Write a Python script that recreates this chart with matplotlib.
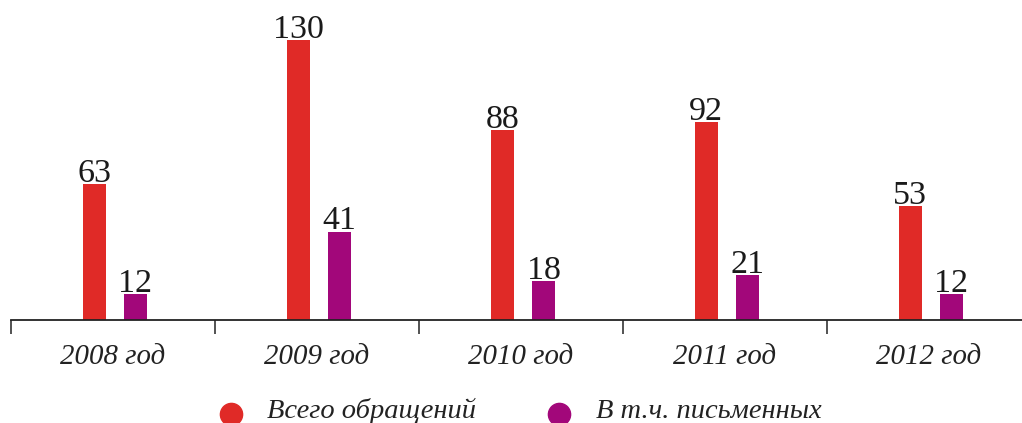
import numpy as np
import matplotlib.pyplot as plt
from matplotlib.lines import Line2D

years = ['2008 год', '2009 год', '2010 год', '2011 год', '2012 год']
total = [63, 130, 88, 92, 53]
written = [12, 41, 18, 21, 12]
legend_labels = ['Всего обращений', 'В т.ч. письменных']

red = '#e02a27'
purple = '#a2077a'

plt.rcParams['font.family'] = ['Liberation Serif', 'DejaVu Serif']

W, H = 1022, 423
fig = plt.figure(figsize=(W / 100, H / 100), dpi=100)
ax = fig.add_axes([11 / W, 103 / H, 1011 / W, 320 / H])

x = np.arange(len(years))
w = 0.113
ax.bar(x - 0.092, total, width=w, color=red)
ax.bar(x + 0.110, written, width=w, color=purple)

for xi, v in zip(x - 0.092, total):
    ax.text(xi, v - 2.2, str(v), ha='center', va='bottom', fontsize=24.5, color='#1a1a1a')
for xi, v in zip(x + 0.110, written):
    ax.text(xi, v - 2.2, str(v), ha='center', va='bottom', fontsize=24.5, color='#1a1a1a')

for s in ['top', 'right', 'left']:
    ax.spines[s].set_visible(False)
ax.spines['bottom'].set_linewidth(1.3)
ax.spines['bottom'].set_color('#222222')

ax.set_yticks([])
ax.set_xticks(np.arange(-0.5, 5, 1))
ax.set_xticklabels([])
ax.tick_params(axis='x', which='major', length=10, width=1.3, color='#444444', direction='out')
ax.set_xticks(x, minor=True)
ax.set_xticklabels(years, minor=True, fontsize=20.8, style='italic', color='#222222')
ax.tick_params(axis='x', which='minor', length=0, pad=17.5)

# limits after ticks so they are not widened
ax.set_xlim(-0.5, 4.5 - 9 / 204)
ax.set_ylim(0, 148.6)

# legend drawn by hand at the bottom edge
for (mx, tx), col, lab in zip([(231, 267), (558.5, 596)], [red, purple], legend_labels):
    fig.add_artist(Line2D([mx / W], [9 / H], marker='o', markersize=16, color=col,
                          linestyle='none', transform=fig.transFigure))
    fig.text(tx / W, 12 / H, lab, fontsize=20.5, style='italic', color='#222222',
             ha='left', va='center')

fig.savefig('out.png', dpi=100)
